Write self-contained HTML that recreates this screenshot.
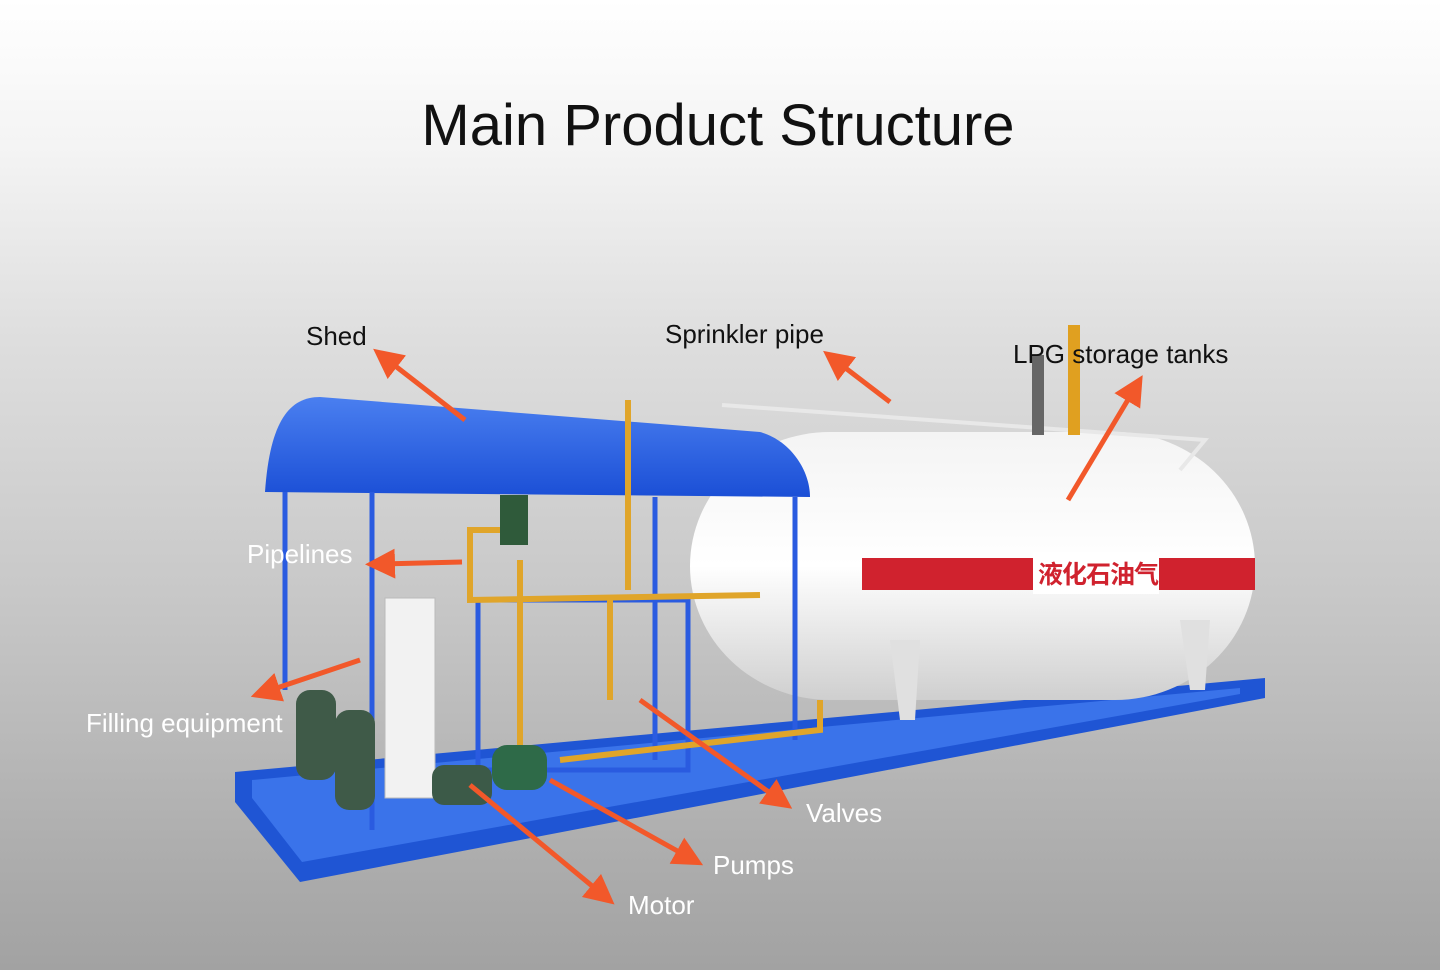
<!DOCTYPE html>
<html><head><meta charset="utf-8"><style>
html,body{margin:0;padding:0}
body{width:1440px;height:970px;overflow:hidden;background:linear-gradient(#ffffff 0%,#f4f4f4 15%,#dedede 35%,#c9c9c9 60%,#b0b0b0 85%,#a2a2a2 100%);font-family:"Liberation Sans","Noto Sans CJK SC",sans-serif;position:relative}
h1{position:absolute;left:0;width:1436px;top:92px;margin:0;text-align:center;font-weight:normal;font-size:58px;color:#111}
.l{position:absolute;font-size:26px;white-space:nowrap}
.b{color:#111}.w{color:#fff}
</style></head><body>
<h1>Main Product Structure</h1>
<svg width="1440" height="970" style="position:absolute;left:0;top:0">
<defs>
<linearGradient id="tk" x1="0" y1="0" x2="0" y2="1"><stop offset="0" stop-color="#f4f4f4"/><stop offset="0.5" stop-color="#ffffff"/><stop offset="1" stop-color="#cfcfcf"/></linearGradient>
<linearGradient id="rf" x1="0" y1="0" x2="0" y2="1"><stop offset="0" stop-color="#4a7ff0"/><stop offset="1" stop-color="#1b4fd6"/></linearGradient>
<marker id="ah" markerWidth="6" markerHeight="6" refX="3" refY="3" orient="auto"><path d="M0,0 L6,3 L0,6 Z" fill="#f2582a"/></marker>
</defs>
<polygon points="235,772 1265,678 1265,698 300,882 235,802" fill="#1f55d4"/>
<polygon points="252,780 1240,688 1240,694 302,862 252,798" fill="#3a73ea"/>
<rect x="690" y="432" width="565" height="268" rx="140" ry="134" fill="url(#tk)"/>
<polygon points="890,640 920,640 915,720 900,720" fill="#e0e0e0"/>
<polygon points="1180,620 1210,620 1205,690 1190,690" fill="#e0e0e0"/>
<rect x="862" y="558" width="393" height="32" fill="#d0222e"/>
<rect x="1033" y="552" width="126" height="42" fill="#fff"/>
<text x="1038" y="583" font-size="25" font-weight="bold" fill="#d0222e" letter-spacing="-1" font-family="Noto Sans CJK SC,sans-serif">液化石油气</text>
<polyline points="722,405 1205,440 1180,470" fill="none" stroke="#e8e8e8" stroke-width="4"/>
<rect x="1032" y="355" width="12" height="80" fill="#666"/>
<rect x="1068" y="325" width="12" height="110" fill="#e0a020"/>
<path d="M265,492 C270,420 290,397 320,397 L760,432 C790,440 810,470 810,497 Z" fill="url(#rf)"/>
<g stroke="#2a5be0" stroke-width="5" fill="none">
<line x1="285" y1="492" x2="285" y2="690"/><line x1="372" y1="492" x2="372" y2="830"/>
<line x1="655" y1="497" x2="655" y2="760"/><line x1="795" y1="497" x2="795" y2="740"/>
<rect x="478" y="600" width="210" height="170"/>
</g>
<g stroke="#e0a52a" stroke-width="6" fill="none">
<polyline points="500,530 470,530 470,600 760,595"/>
<line x1="520" y1="560" x2="520" y2="790"/><line x1="610" y1="600" x2="610" y2="700"/>
<line x1="628" y1="400" x2="628" y2="590"/><polyline points="560,760 820,730 820,700"/>
</g>
<rect x="500" y="495" width="28" height="50" fill="#2f5a3a"/>
<rect x="385" y="598" width="50" height="200" fill="#f2f2f2" stroke="#bbb"/>
<rect x="296" y="690" width="40" height="90" rx="14" fill="#3f5a48"/>
<rect x="335" y="710" width="40" height="100" rx="14" fill="#3f5a48"/>
<rect x="432" y="765" width="60" height="40" rx="12" fill="#3c5a48"/>
<rect x="492" y="745" width="55" height="45" rx="15" fill="#2e6a48"/>
<g stroke="#f2582a" stroke-width="5" marker-end="url(#ah)">
<line x1="465" y1="420" x2="385" y2="358"/>
<line x1="890" y1="402" x2="835" y2="360"/>
<line x1="1068" y1="500" x2="1135" y2="388"/>
<line x1="462" y1="562" x2="380" y2="564"/>
<line x1="360" y1="660" x2="265" y2="692"/>
<line x1="640" y1="700" x2="780" y2="800"/>
<line x1="550" y1="780" x2="690" y2="858"/>
<line x1="470" y1="785" x2="603" y2="895"/>
</g>
</svg>
<div class="l b" style="left:306px;top:321px">Shed</div>
<div class="l b" style="left:665px;top:319px">Sprinkler pipe</div>
<div class="l b" style="left:1013px;top:339px">LPG storage tanks</div>
<div class="l w" style="left:247px;top:539px">Pipelines</div>
<div class="l w" style="left:86px;top:708px">Filling equipment</div>
<div class="l w" style="left:806px;top:798px">Valves</div>
<div class="l w" style="left:713px;top:850px">Pumps</div>
<div class="l w" style="left:628px;top:890px">Motor</div>
</body></html>
